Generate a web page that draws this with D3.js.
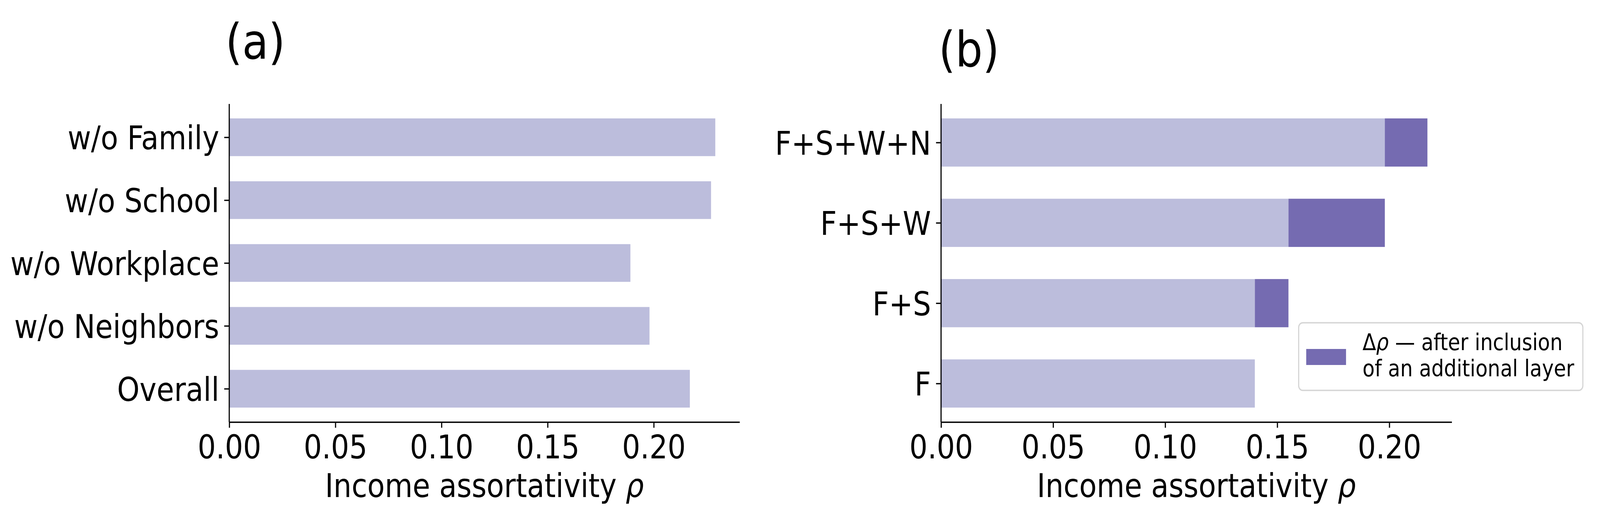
<!DOCTYPE html>
<html>
<head>
<meta charset="utf-8">
<script src="https://cdn.jsdelivr.net/npm/d3@7"></script>
<style>
  html, body { margin: 0; padding: 0; background: #fff; overflow: hidden; }
  svg { display: block; }
  svg text { font-family: "DejaVu Sans", sans-serif; fill: #000; }
</style>
</head>
<body>
<div id="chart"></div>
<script>
// panel (a): removing one layer
const removedLabels = ["Overall", "w/o Neighbors", "w/o Workplace", "w/o School", "w/o Family"];
const removedRho = [0.217, 0.198, 0.189, 0.227, 0.229];

// panel (b): adding layers one by one
const layerLabels = ["F", "F+S", "F+S+W", "F+S+W+N"];
const layerRho = [0.140, 0.155, 0.198, 0.217];

const xTicks = [0, 0.05, 0.10, 0.15, 0.20];
const xLabel = "Income assortativity ";
const legendLines = ["after inclusion", "of an additional layer"];

const W = 4662, H = 1323;
const light = "#bcbddc", dark = "#756bb1";
const yTop = 266, yBottom = 1080;
const fs = 83.3, tickLen = 14.6, lw = 3.33;

// the window may be narrower than 4662, so stretch the drawing to fill it
const svg = d3.select("#chart").append("svg")
    .attr("viewBox", "0 0 " + W + " " + H)
    .attr("preserveAspectRatio", "none")
    .style("width", "100vw")
    .style("height", "100vh");

// matplotlib-like limits for barh with height 0.6
const yDomain = n => {
    const m = 0.05 * (n - 1 + 0.6);
    return [-0.3 - m, n - 1 + 0.3 + m];
};

function panel(left, right, labels, maxVal, title, titleX, titleY) {
    const g = svg.append("g");
    const x = d3.scaleLinear().domain([0, maxVal * 1.05]).range([left, right]);
    const y = d3.scaleLinear().domain(yDomain(labels.length)).range([yBottom, yTop]);
    const bh = y(0) - y(0.6);

    const bars = g.append("g");

    // x axis
    const xa = g.append("g")
        .attr("transform", "translate(0," + yBottom + ")")
        .call(d3.axisBottom(x).tickValues(xTicks).tickFormat(d3.format(".2f"))
            .tickSize(tickLen).tickSizeOuter(0));
    xa.attr("font-family", null).attr("font-size", null);
    xa.select(".domain").attr("stroke-width", lw);
    xa.selectAll(".tick line").attr("stroke-width", lw);
    xa.selectAll(".tick text")
        .attr("y", 93).attr("dy", 0)
        .style("font-size", fs + "px");

    // y axis
    const ya = g.append("g")
        .attr("transform", "translate(" + left + ",0)")
        .call(d3.axisLeft(y).tickValues(d3.range(labels.length)).tickFormat(i => labels[i])
            .tickSize(tickLen).tickSizeOuter(0));
    ya.attr("font-family", null).attr("font-size", null);
    ya.select(".domain").attr("d", "M0," + yTop + "V" + yBottom).attr("stroke-width", lw);
    ya.selectAll(".tick line").attr("stroke-width", lw);
    ya.selectAll(".tick text")
        .attr("x", -2 * tickLen).attr("dy", "0.365em")
        .style("font-size", fs + "px");

    const lab = g.append("text")
        .attr("x", (left + right) / 2)
        .attr("y", 1272)
        .attr("text-anchor", "middle")
        .style("font-size", fs + "px")
        .text(xLabel);
    lab.append("tspan").style("font-style", "italic").text("ρ");

    g.append("text")
        .attr("x", titleX).attr("y", titleY)
        .style("font-size", "125px")
        .text(title);

    return { x, y, bh, bars };
}

// (a)
const pa = panel(668, 2155, removedLabels, d3.max(removedRho), "(a)", 657, 150);
pa.bars.selectAll("rect")
    .data(removedRho)
    .enter().append("rect")
    .attr("x", pa.x(0))
    .attr("y", (d, i) => pa.y(i + 0.3))
    .attr("width", d => pa.x(d) - pa.x(0))
    .attr("height", pa.bh)
    .attr("fill", light);

// (b)
const pb = panel(2742, 4230, layerLabels, d3.max(layerRho), "(b)", 2735, 170);
const base = layerRho.map((d, i) => i === 0 ? d : layerRho[i - 1]);
pb.bars.selectAll("rect.base")
    .data(base)
    .enter().append("rect")
    .attr("class", "base")
    .attr("x", pb.x(0))
    .attr("y", (d, i) => pb.y(i + 0.3))
    .attr("width", d => pb.x(d) - pb.x(0))
    .attr("height", pb.bh)
    .attr("fill", light);
pb.bars.selectAll("rect.delta")
    .data(layerRho.slice(1))
    .enter().append("rect")
    .attr("class", "delta")
    .attr("x", (d, i) => pb.x(base[i + 1]))
    .attr("y", (d, i) => pb.y(i + 1 + 0.3))
    .attr("width", (d, i) => pb.x(d) - pb.x(base[i + 1]))
    .attr("height", pb.bh)
    .attr("fill", dark);

// legend
const lg = svg.append("g");
lg.append("rect")
    .attr("x", 3784).attr("y", 826)
    .attr("width", 828).attr("height", 173)
    .attr("rx", 12)
    .attr("fill", "#fff")
    .attr("stroke", "#d5d5d5")
    .attr("stroke-width", 3.3);
lg.append("rect")
    .attr("x", 3806).attr("y", 893)
    .attr("width", 116).attr("height", 41)
    .attr("fill", dark);
const lt = lg.append("text")
    .attr("x", 3970).attr("y", 896)
    .style("font-size", "58px");
lt.append("tspan").text("Δ");
lt.append("tspan").style("font-style", "italic").text("ρ");
lt.append("tspan").text(" \u2014 " + legendLines[0]);
lg.append("text")
    .attr("x", 3970).attr("y", 963)
    .style("font-size", "58px")
    .text(legendLines[1]);
</script>
</body>
</html>
